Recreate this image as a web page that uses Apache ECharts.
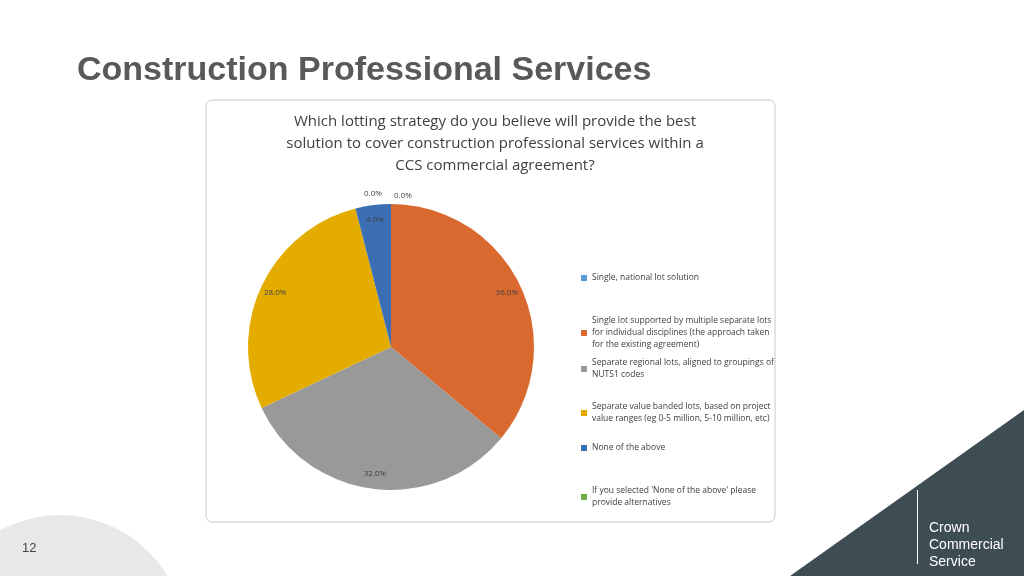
<!DOCTYPE html>
<html lang="en">
<head>
    <meta charset="UTF-8">
    <title>Construction Professional Services</title>
    <script src="https://cdn.jsdelivr.net/npm/echarts@6/dist/echarts.min.js"></script>
    <style>body{margin:0;background:#fff;}</style>
</head>
<body>
<div id="main" style="width:1024px;height:576px;"></div>
<script>
    var names = [
        'Single, national lot solution',
        'Single lot supported by multiple separate lots\nfor individual disciplines (the approach taken\nfor the existing agreement)',
        'Separate regional lots, aligned to groupings of\nNUTS1 codes',
        'Separate value banded lots, based on project\nvalue ranges (eg 0-5 million, 5-10 million, etc)',
        'None of the above',
        "If you selected 'None of the above' please\nprovide alternatives"
    ];
    var values = [0, 36, 32, 28, 4, 0];
    var colors = ['#5b9bd5', '#d9692e', '#999999', '#e5ac00', '#3c6eb4', '#70ad47'];
    var legendTops = [267, 310, 352, 396, 437, 480];

    var myChart = echarts.init(document.getElementById('main'));
    var data = [];
    var labelData = [];
    for (var i = 0; i < names.length; i++) {
        data.push({name: names[i], value: values[i], itemStyle: {color: colors[i]}});
        labelData.push({name: names[i] + ' ', value: values[i]});
    }
    var legends = names.map(function (n, i) {
        return {
            data: [n], left: 576, top: legendTops[i], orient: 'vertical',
            itemWidth: 6, itemHeight: 6, icon: 'rect', itemGap: 4,
            textStyle: {fontSize: 8.5, color: '#404040', lineHeight: 12, fontFamily: 'Open Sans'}
        };
    });
    var option = {
        title: [{
            text: 'Construction Professional Services',
            left: 72, top: 49,
            textStyle: {fontSize: 34, fontWeight: 'bold', color: '#595959', fontFamily: 'Liberation Sans'}
        }, {
            text: 'Which lotting strategy do you believe will provide the best\nsolution to cover construction professional services within a\nCCS commercial agreement?',
            left: 490, top: 106, textAlign: 'center',
            textStyle: {fontSize: 15, fontWeight: 'normal', color: '#404040', lineHeight: 22, fontFamily: 'Open Sans'}
        }, {
            text: '12', left: 17, top: 537,
            textStyle: {fontSize: 13, fontWeight: 'normal', color: '#444', fontFamily: 'Liberation Sans'}
        }, {
            text: 'Crown\nCommercial\nService', left: 924, top: 515,
            textStyle: {fontSize: 14, fontWeight: 'normal', color: '#ffffff', lineHeight: 17, fontFamily: 'Liberation Sans'}
        }],
        graphic: [
            {type: 'circle', shape: {cx: 60, cy: 640, r: 125}, style: {fill: '#e8e8e8'}, z: -10},
            {type: 'polygon', shape: {points: [[790, 576], [1024, 410], [1024, 576]]}, style: {fill: '#3e4c54'}, z: -10},
            {type: 'rect', shape: {x: 206, y: 100, width: 569, height: 422, r: 6},
                style: {fill: '#fff', stroke: '#c8c8c8', lineWidth: 1}, z: -5},
            {type: 'rect', shape: {x: 917, y: 490, width: 1, height: 74}, style: {fill: '#fff'}},
            {type: 'text', left: 364, top: 190, style: {text: '0.0%', fontSize: 8, fill: '#404040', fontFamily: 'Open Sans'}},
            {type: 'text', left: 394, top: 192, style: {text: '0.0%', fontSize: 8, fill: '#404040', fontFamily: 'Open Sans'}}
        ],
        legend: legends,
        series: [{
            type: 'pie', center: [391, 347], radius: 143, startAngle: 90,
            data: data, label: {show: false}, labelLine: {show: false},
            emphasis: {disabled: true}, silent: true
        }, {
            type: 'pie', center: [391, 347], radius: [100, 150], startAngle: 90,
            data: labelData, itemStyle: {color: 'rgba(0,0,0,0)'}, silent: true,
            emphasis: {disabled: true},
            label: {show: true, position: 'inside', fontSize: 8, color: '#404040', fontFamily: 'Open Sans',
                formatter: function (p) { return p.value > 0 ? p.value.toFixed(1) + '%' : ''; }},
            labelLine: {show: false}
        }]
    };
    myChart.setOption(option);
</script>
</body>
</html>
